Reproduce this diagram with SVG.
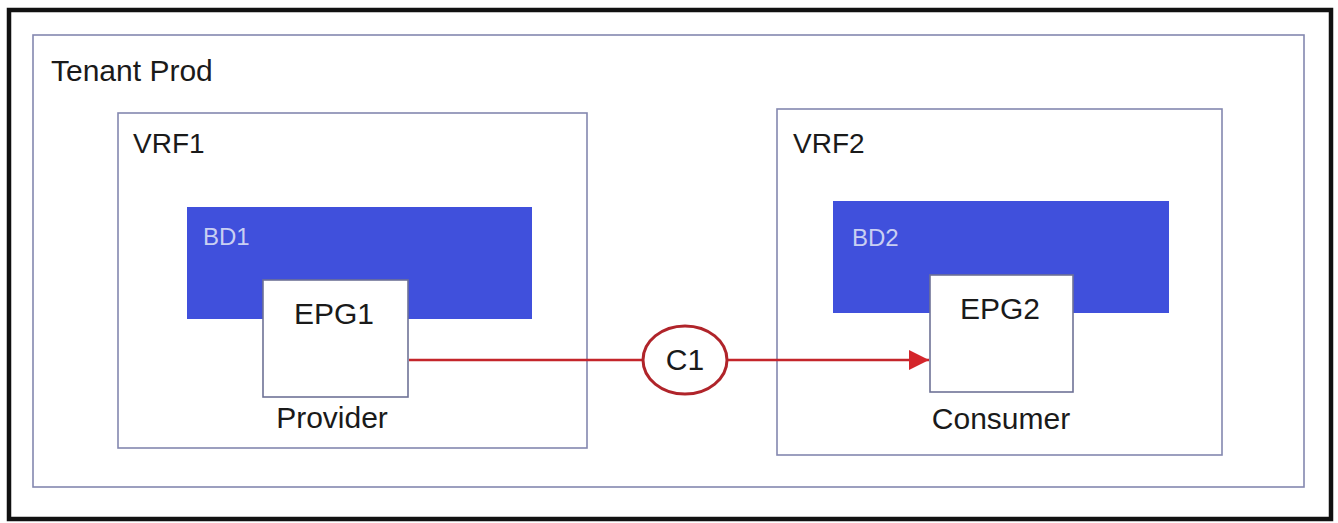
<svg xmlns="http://www.w3.org/2000/svg" width="1338" height="523" viewBox="0 0 1338 523">
<defs>
<style>
.box{fill:#ffffff;stroke:#8488b0;stroke-width:1.6}
.bd{fill:#4050dc}
.epg{fill:#ffffff;stroke:#6e7296;stroke-width:1.6}
.lbl{font-family:"Liberation Sans",Arial,sans-serif;font-size:30px;fill:#1a1a1a}
.vrf{font-size:28px}
.bdl{font-family:"Liberation Sans",Arial,sans-serif;font-size:24px;fill:#c9cff2}
.conn{stroke:#c4252b;stroke-width:2.6;fill:none}
</style>
<marker id="arr" viewBox="0 0 10 10" refX="10" refY="5" markerWidth="20" markerHeight="24" markerUnits="userSpaceOnUse" orient="auto">
<path d="M0,0 L10,5 L0,10 Z" fill="#d4252b"/>
</marker>
</defs>
<rect x="0" y="0" width="1338" height="523" fill="#ffffff"/>
<rect x="9" y="10" width="1322" height="509" fill="#ffffff" stroke="#111111" stroke-width="4.5"/>
<g id="tenant">
<rect class="box" x="33" y="35" width="1271" height="452"/>
<text class="lbl" x="51" y="81" font-size="31">Tenant Prod</text>
</g>
<g id="vrf1">
<rect class="box" x="118" y="113" width="469" height="335"/>
<text class="lbl vrf" x="133" y="153">VRF1</text>
</g>
<g id="vrf2">
<rect class="box" x="777" y="109" width="445" height="346"/>
<text class="lbl vrf" x="793" y="153">VRF2</text>
</g>
<g id="bd1">
<rect class="bd" x="187" y="207" width="345" height="112"/>
<text class="bdl" x="203" y="245">BD1</text>
</g>
<g id="bd2">
<rect class="bd" x="833" y="201" width="336" height="112"/>
<text class="bdl" x="852" y="246">BD2</text>
</g>
<g id="epg1">
<rect class="epg" x="263" y="280" width="145" height="117"/>
<text class="lbl" x="334" y="324" text-anchor="middle">EPG1</text>
<text class="lbl" x="332" y="428" text-anchor="middle">Provider</text>
</g>
<g id="epg2">
<rect class="epg" x="930" y="275" width="143" height="117"/>
<text class="lbl" x="1000" y="319" text-anchor="middle">EPG2</text>
<text class="lbl" x="1001" y="429" text-anchor="middle">Consumer</text>
</g>
<g id="connectors">
<line class="conn" x1="409" y1="360" x2="643" y2="360"/>
<line class="conn" x1="728" y1="360" x2="929" y2="360" marker-end="url(#arr)"/>
</g>
<g id="c1">
<ellipse cx="685" cy="360" rx="42" ry="34" fill="#ffffff" stroke="#b0242a" stroke-width="3"/>
<text class="lbl" x="685" y="370" text-anchor="middle" font-size="27">C1</text>
</g>
</svg>
